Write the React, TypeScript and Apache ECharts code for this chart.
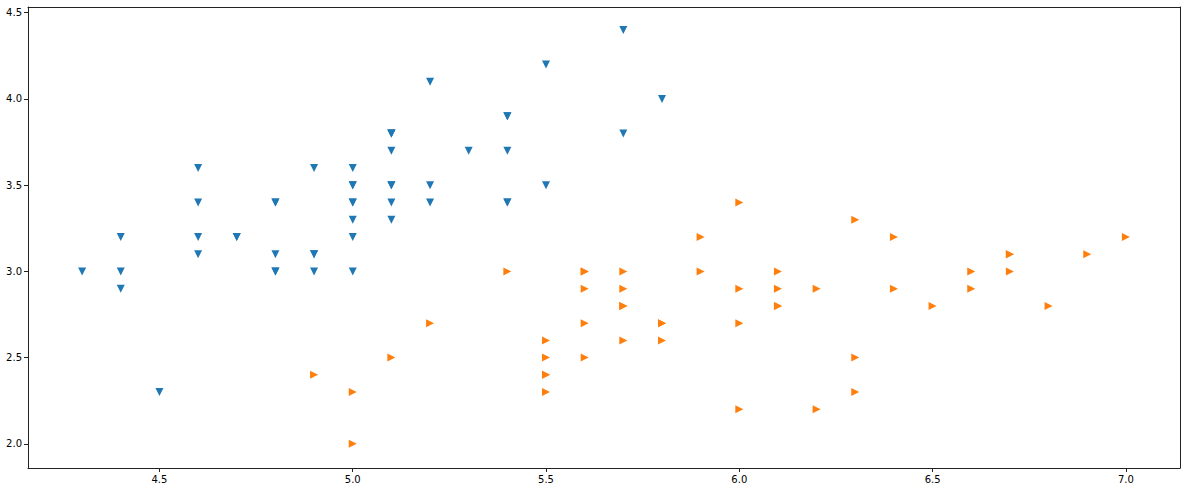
import React, { useEffect, useRef } from "react";
import * as echarts from "echarts";

const setosaX = [5.1, 4.9, 4.7, 4.6, 5.0, 5.4, 4.6, 5.0, 4.4, 4.9, 5.4, 4.8, 4.8, 4.3, 5.8, 5.7, 5.4, 5.1, 5.7, 5.1, 5.4, 5.1, 4.6, 5.1, 4.8, 5.0, 5.0, 5.2, 5.2, 4.7, 4.8, 5.4, 5.2, 5.5, 4.9, 5.0, 5.5, 4.9, 4.4, 5.1, 5.0, 4.5, 4.4, 5.0, 5.1, 4.8, 5.1, 4.6, 5.3, 5.0];
const setosaY = [3.5, 3.0, 3.2, 3.1, 3.6, 3.9, 3.4, 3.4, 2.9, 3.1, 3.7, 3.4, 3.0, 3.0, 4.0, 4.4, 3.9, 3.5, 3.8, 3.8, 3.4, 3.7, 3.6, 3.3, 3.4, 3.0, 3.4, 3.5, 3.4, 3.2, 3.1, 3.4, 4.1, 4.2, 3.1, 3.2, 3.5, 3.6, 3.0, 3.4, 3.5, 2.3, 3.2, 3.5, 3.8, 3.0, 3.8, 3.2, 3.7, 3.3];
const versicolorX = [7.0, 6.4, 6.9, 5.5, 6.5, 5.7, 6.3, 4.9, 6.6, 5.2, 5.0, 5.9, 6.0, 6.1, 5.6, 6.7, 5.6, 5.8, 6.2, 5.6, 5.9, 6.1, 6.3, 6.1, 6.4, 6.6, 6.8, 6.7, 6.0, 5.7, 5.5, 5.5, 5.8, 6.0, 5.4, 6.0, 6.7, 6.3, 5.6, 5.5, 5.5, 6.1, 5.8, 5.0, 5.6, 5.7, 5.7, 6.2, 5.1, 5.7];
const versicolorY = [3.2, 3.2, 3.1, 2.3, 2.8, 2.8, 3.3, 2.4, 2.9, 2.7, 2.0, 3.0, 2.2, 2.9, 2.9, 3.1, 3.0, 2.7, 2.2, 2.5, 3.2, 2.8, 2.5, 2.8, 2.9, 3.0, 2.8, 3.0, 2.9, 2.6, 2.4, 2.4, 2.7, 2.7, 3.0, 3.4, 3.1, 2.3, 3.0, 2.5, 2.6, 3.0, 2.6, 2.3, 2.7, 3.0, 2.9, 2.9, 2.5, 2.8];
const xTicks = [4.5, 5.0, 5.5, 6.0, 6.5, 7.0];
const yTicks = [2.0, 2.5, 3.0, 3.5, 4.0, 4.5];

export default function App() {
  const ref = useRef<HTMLDivElement>(null);
  useEffect(() => {
    document.body.style.margin = "0";
    const chart = echarts.init(ref.current!, null, { renderer: "svg" });
    const axisCommon = {
      axisLine: { show: true, onZero: false, lineStyle: { color: "#222", width: 1 } },
      axisTick: { show: true, inside: false, length: 4, lineStyle: { color: "#222", width: 1 } },
      splitLine: { show: false },
      axisLabel: {
        color: "#000",
        fontSize: 10,
        fontFamily: "DejaVu Sans",
        formatter: (v: number) => v.toFixed(1),
        showMinLabel: true,
        showMaxLabel: true,
      },
    };
    chart.setOption({
      animation: false,
      grid: { left: 28, right: 7, top: 7, bottom: 26, containLabel: false },
      xAxis: [
        {
          type: "value",
          min: 4.16,
          max: 7.14,
          ...axisCommon,
          axisTick: { ...axisCommon.axisTick, customValues: xTicks },
          axisLabel: { ...axisCommon.axisLabel, customValues: xTicks, margin: 6 },
        },
        {
          type: "value",
          position: "top",
          min: 4.16,
          max: 7.14,
          axisLine: { show: true, lineStyle: { color: "#222", width: 1 } },
          axisTick: { show: false },
          axisLabel: { show: false },
          splitLine: { show: false },
        },
      ],
      yAxis: [
        {
          type: "value",
          min: 1.86,
          max: 4.533,
          ...axisCommon,
          axisTick: { ...axisCommon.axisTick, customValues: yTicks },
          axisLabel: { ...axisCommon.axisLabel, customValues: yTicks, margin: 6 },
        },
        {
          type: "value",
          position: "right",
          min: 1.86,
          max: 4.533,
          axisLine: { show: true, lineStyle: { color: "#222", width: 1 } },
          axisTick: { show: false },
          axisLabel: { show: false },
          splitLine: { show: false },
        },
      ],
      series: [
        {
          name: "setosa",
          type: "scatter",
          symbol: "triangle",
          symbolRotate: 180,
          symbolSize: 8,
          itemStyle: { color: "#1f77b4", opacity: 1 },
          data: setosaX.map((x, i) => [x, setosaY[i]]),
        },
        {
          name: "versicolor",
          type: "scatter",
          symbol: "triangle",
          symbolRotate: -90,
          symbolSize: 8,
          itemStyle: { color: "#ff7f0e", opacity: 1 },
          data: versicolorX.map((x, i) => [x, versicolorY[i]]),
        },
      ],
    });
    return () => chart.dispose();
  }, []);
  return <div ref={ref} style={{ width: 1187, height: 494, background: "#fff" }} />;
}
